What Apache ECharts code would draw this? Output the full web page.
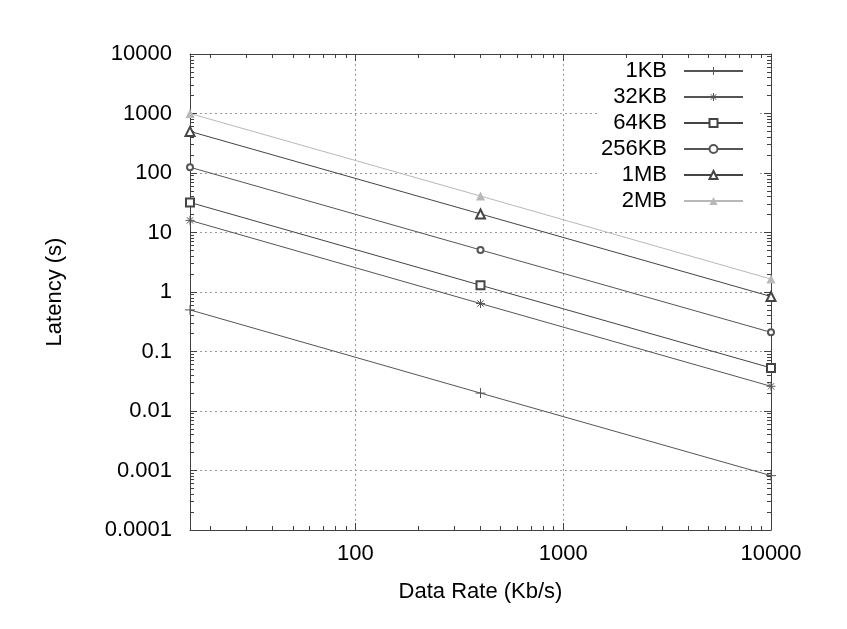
<!DOCTYPE html>
<html>
<head>
<meta charset="utf-8">
<script src="https://cdn.jsdelivr.net/npm/echarts@6/dist/echarts.min.js"></script>
<style>
  html, body { margin: 0; padding: 0; background: #fff; }
  #chart { width: 847px; height: 629px; }
</style>
</head>
<body>
<div id="chart"></div>
<script>
// data rate (Kb/s) at which each transfer was measured
const rates = [16, 400, 10000];

// latency (s) per file size
const lat1KB = [0.5, 0.02, 0.00082];
const lat32KB = [16, 0.64, 0.026];
const lat64KB = [32, 1.3, 0.053];
const lat256KB = [125, 5.1, 0.21];
const lat1MB = [500, 20.5, 0.84];
const lat2MB = [1000, 41, 1.65];

const xTickLabels = ['100', '1000', '10000'];
const yTickLabels = ['0.0001', '0.001', '0.01', '0.1', '1', '10', '100', '1000', '10000'];

// minor ticks 2..9 in every decade (axis decoration only)
const xMinor = [];
for (let d = 10; d <= 1000; d *= 10) {
  for (let k = 2; k <= 9; k++) xMinor.push(k * d);
}
const yMinor = [];
for (let e = -4; e <= 3; e++) {
  for (let k = 2; k <= 9; k++) yMinor.push(Number((k * Math.pow(10, e)).toPrecision(3)));
}

const FONT = 'Liberation Sans';
const AXIS = '#404040';
const LINE = '#555';

function pow10Index(v) {
  const l = Math.log10(v);
  const r = Math.round(l);
  return Math.abs(l - r) < 1e-6 ? r : null;
}

const labelStyle = { fontFamily: FONT, fontSize: 22, color: '#000' };

function xAxisDef(position, minor, main) {
  return {
    type: 'log',
    min: 16,
    max: 10000,
    position: position,
    axisLine: { show: !minor, lineStyle: { color: AXIS, width: 1 } },
    axisTick: minor
      ? { inside: true, length: 4, customValues: xMinor, lineStyle: { color: AXIS } }
      : { inside: true, length: 7, lineStyle: { color: AXIS } },
    axisLabel: main ? Object.assign({
      margin: 13,
      formatter: (v) => {
        const r = pow10Index(v);
        return r === null || r < 2 ? '' : xTickLabels[r - 2];
      }
    }, labelStyle) : { show: false },
    splitLine: main
      ? { show: true, lineStyle: { color: '#9a9a9a', type: [2, 3], width: 1 } }
      : { show: false },
    name: main ? 'Data Rate (Kb/s)' : '',
    nameLocation: 'middle',
    nameGap: 51,
    nameTextStyle: labelStyle
  };
}

function yAxisDef(position, minor, main) {
  return {
    type: 'log',
    min: 0.0001,
    max: 10000,
    position: position,
    axisLine: { show: !minor, lineStyle: { color: AXIS, width: 1 } },
    axisTick: minor
      ? { inside: true, length: 4, customValues: yMinor, lineStyle: { color: AXIS } }
      : { inside: true, length: 7, lineStyle: { color: AXIS } },
    axisLabel: main ? Object.assign({
      margin: 18,
      formatter: (v) => {
        const r = pow10Index(v);
        return r === null ? '' : yTickLabels[r + 4];
      }
    }, labelStyle) : { show: false },
    splitLine: main
      ? { show: true, lineStyle: { color: '#9a9a9a', type: [2, 3], width: 1 } }
      : { show: false },
    name: main ? 'Latency (s)' : '',
    nameLocation: 'middle',
    nameGap: 124,
    nameTextStyle: labelStyle
  };
}

function makeSeries(name, values, symbol, size, color, filled) {
  return {
    name: name,
    type: 'line',
    xAxisIndex: 0,
    yAxisIndex: 0,
    data: rates.map((r, i) => [r, values[i]]),
    symbol: symbol,
    symbolSize: size,
    showSymbol: true,
    clip: false,
    lineStyle: { color: color, width: 1 },
    itemStyle: filled
      ? { color: color }
      : { color: color, borderColor: color, borderWidth: 1 }
  };
}

const chart = echarts.init(document.getElementById('chart'));
chart.setOption({
  animation: false,
  backgroundColor: '#fff',
  grid: { left: 190, right: 76, top: 54, bottom: 99 },
  xAxis: [
    xAxisDef('bottom', false, true),
    xAxisDef('bottom', true, false),
    xAxisDef('top', false, false),
    xAxisDef('top', true, false)
  ],
  yAxis: [
    yAxisDef('left', false, true),
    yAxisDef('left', true, false),
    yAxisDef('right', false, false),
    yAxisDef('right', true, false)
  ],
  legend: {
    orient: 'vertical',
    align: 'right',
    right: 90,
    top: 58,
    padding: [2, 13, 8, 2],
    itemWidth: 59,
    itemHeight: 10,
    itemGap: 4,
    backgroundColor: '#fff',
    selectedMode: false,
    itemStyle: { borderWidth: 1 },
    textStyle: Object.assign({ padding: [0, 12, 0, 0] }, labelStyle),
    data: ['1KB', '32KB', '64KB', '256KB', '1MB', '2MB']
  },
  series: [
    makeSeries('1KB', lat1KB, 'path://M5,0V10M0,5H10', 10, LINE, false),
    makeSeries('32KB', lat32KB, 'path://M5,0V10M0,5H10M1.5,1.5L8.5,8.5M8.5,1.5L1.5,8.5', 9, LINE, false),
    makeSeries('64KB', lat64KB, 'emptyRect', 8, '#444', false),
    makeSeries('256KB', lat256KB, 'emptyCircle', 6, LINE, false),
    makeSeries('1MB', lat1MB, 'emptyTriangle', 9, '#444', false),
    makeSeries('2MB', lat2MB, 'triangle', 9, '#b8b8b8', true)
  ]
});
</script>
</body>
</html>
